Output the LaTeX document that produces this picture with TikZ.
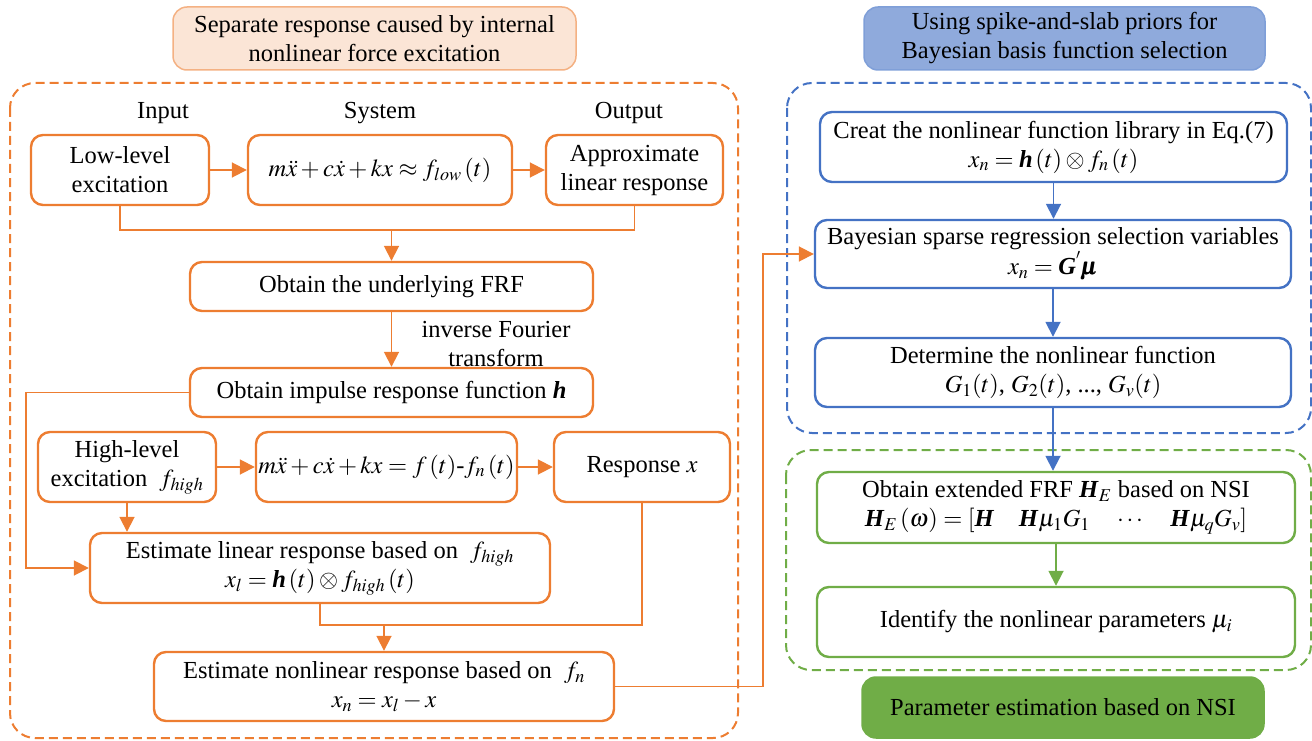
\documentclass[tikz,border=0pt]{standalone}
\usepackage{amsmath}
\usepackage{mathptmx}
\usepackage{fontspec}
\setmainfont{Liberation Serif}
\usetikzlibrary{arrows.meta,calc}
\definecolor{cor}{HTML}{ED7D31}
\definecolor{cbl}{HTML}{4472C4}
\definecolor{cgr}{HTML}{70AD47}
\definecolor{corfill}{HTML}{FBE5D6}
\definecolor{cordraw}{HTML}{F4B183}
\definecolor{cblfill}{HTML}{8FAADC}
\definecolor{cbldraw}{HTML}{7F9FD8}
\newcommand{\bv}[1]{\textbf{\textit{#1}}}
\tikzset{
  every node/.style={font=\fontsize{24.5}{29}\selectfont, inner sep=0pt, align=center},
  obox/.style={draw=cor, line width=2.4pt, rounded corners=12pt, fill=white},
  bbox/.style={draw=cbl, line width=2.4pt, rounded corners=12pt, fill=white},
  gbox/.style={draw=cgr, line width=2.4pt, rounded corners=12pt, fill=white},
  tbox/.style={line width=1.5pt, rounded corners=14pt},
  cont/.style={line width=2pt, dash pattern=on 9pt off 5pt, rounded corners=25pt},
  ocon/.style={draw=cor, line width=1.8pt},
  oarr/.style={ocon, -{Triangle[length=15pt,width=15pt]}},
  barr/.style={draw=cbl, line width=1.8pt, -{Triangle[length=15pt,width=15pt]}},
  garr/.style={draw=cgr, line width=1.8pt, -{Triangle[length=15pt,width=15pt]}},
}
\begin{document}
\begin{tikzpicture}[x=1pt,y=-1pt]
\useasboundingbox (0,0) rectangle (1312,741);
% containers
\draw[cont, cor] (10,83) rectangle (738,738);
\draw[cont, cbl] (787,83) rectangle (1311,433);
\draw[cont, cgr] (786,450) rectangle (1311,670);
% titles
\node[tbox, draw=cordraw, fill=corfill, minimum width=403pt, minimum height=63pt] (t1) at (374.5,38.5) {Separate response caused by internal\\nonlinear force excitation};
\node[tbox, draw=cbldraw, fill=cblfill, minimum width=401pt, minimum height=63pt] (t2) at (1064.5,38.5) {Using spike-and-slab priors for\\Bayesian basis function selection};
\node[tbox, draw=cgr, fill=cgr, minimum width=402pt, minimum height=61pt] (t3) at (1063,707.5) {Parameter estimation based on NSI};
% column labels
\node (lin) at (163,113) {Input};
\node (lsys) at (380,113) {System};
\node (lout) at (629,113) {Output};
% left boxes
\node[obox, minimum width=178pt, minimum height=70pt] (low) at (120,170) {Low-level\\excitation};
\node[obox, minimum width=264pt, minimum height=70pt] (sys) at (380,170) {$m\ddot{x}+c\dot{x}+kx\approx f_{low}\left(t\right)$};
\node[obox, minimum width=177pt, minimum height=70pt] (appr) at (634.5,170) {Approximate\\linear response};
\node[obox, minimum width=403pt, minimum height=49pt] (frf) at (391.5,286.5) {Obtain the underlying FRF};
\node[obox, minimum width=403pt, minimum height=49pt] (irf) at (391.5,392.5) {Obtain impulse response function \bv{h}};
\node (ift) at (496,344) {inverse Fourier\\transform};
\node[obox, minimum width=178pt, minimum height=70pt] (high) at (127,467) {High-level\\excitation \ $f_{high}$};
\node[obox, minimum width=261pt, minimum height=70pt] (sys2) at (386.5,467) {$m\ddot{x}+c\dot{x}+kx=f\left(t\right)$-$f_{n}\left(t\right)$};
\node[obox, minimum width=176pt, minimum height=70pt] (resp) at (642,467) {Response $x$};
\node[obox, minimum width=460pt, minimum height=70pt] (estl) at (320,568) {Estimate linear response based on \ $f_{high}$\\$x_l=\text{\bv{h}}\left(t\right)\otimes f_{high}\left(t\right)$};
\node[obox, minimum width=460pt, minimum height=69pt] (estn) at (384,686.5) {Estimate nonlinear response based on \ $f_{n}$\\$x_n=x_l-x$};
% right boxes
\node[bbox, minimum width=467pt, minimum height=70pt] (creat) at (1053.5,147) {Creat the nonlinear function library in Eq.(7)\\$x_n=\text{\bv{h}}\left(t\right)\otimes f_n\left(t\right)$};
\node[bbox, minimum width=476pt, minimum height=68pt] (bayes) at (1053,254) {Bayesian sparse regression selection variables\\$x_n=\text{\bv{G}}^{'}\pmb{\mu}$};
\node[bbox, minimum width=476pt, minimum height=69pt] (det) at (1053,372.5) {Determine the nonlinear function\\$G_1(t)$, $G_2(t)$, ..., $G_v(t)$};
\node[gbox, minimum width=478pt, minimum height=71pt] (ext) at (1056,507.5) {Obtain extended FRF $\text{\bv{H}}_E$ based on NSI\\$\text{\bv{H}}_E\left(\omega\right)=\left[\text{\bv{H}}\quad\text{\bv{H}}\mu_1G_1\quad\cdots\quad\text{\bv{H}}\mu_qG_v\right]$};
\node[gbox, minimum width=478pt, minimum height=70pt] (ident) at (1056,622) {Identify the nonlinear parameters $\mu_i$};
% junctions
\coordinate (j1) at (391.5,230);
\coordinate (j2) at (384,625);
\coordinate (j3) at (26,392.5);
\coordinate (j4) at (763,686.5);
% left connectors
\draw[oarr] (low) -- (sys);
\draw[oarr] (sys) -- (appr);
\draw[ocon] (low.south) |- (j1) -| (appr.south);
\draw[oarr] (j1) -- (frf.north);
\draw[oarr] (frf.south) -- (irf.north);
\draw[oarr] (irf.west) -- (j3) |- (estl.west);
\draw[oarr] (high) -- (sys2);
\draw[oarr] (sys2) -- (resp);
\draw[oarr] (high.south) -- (high.south |- estl.north);
\draw[ocon] (estl.south) |- (j2) -| (resp.south);
\draw[oarr] (j2) -- (estn.north);
\draw[oarr] (estn.east) -- (j4) |- (bayes.west);
% right connectors
\draw[barr] (creat.south) -- (creat.south |- bayes.north);
\draw[barr] (bayes.south) -- (det.north);
\draw[barr] (det.south) -- (det.south |- ext.north);
\draw[garr] (ext.south) -- (ident.north);
\end{tikzpicture}
\end{document}
